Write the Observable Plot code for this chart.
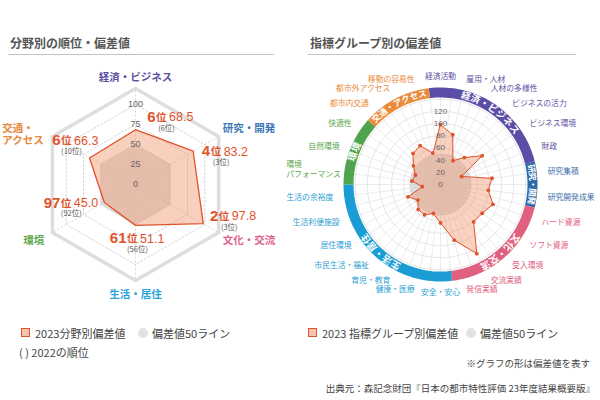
<!DOCTYPE html>
<html lang="ja"><head><meta charset="utf-8">
<script src="https://cdn.jsdelivr.net/npm/d3@7"></script>
<script src="https://cdn.jsdelivr.net/npm/@observablehq/plot@0.6"></script>
<style>
html,body{margin:0;padding:0;background:#fff;}
#page{position:relative;width:600px;height:400px;overflow:hidden;font-family:"Noto Sans CJK JP","Noto Sans",sans-serif;color:#444;}
.a{position:absolute;white-space:nowrap;}
.title{font-size:12px;font-weight:bold;color:#555;line-height:16px;top:35px;}
.rule{height:1px;background:#c4c4c4;top:54px;}
.leg{font-size:11px;line-height:14px;top:326px;color:#444;}
.sq{width:7px;height:7px;border:1.5px solid #e0552a;background:#f6c3ac;top:328px;}
.ci{width:10px;height:10px;border-radius:50%;background:#e2e2e2;top:328px;}
.note{font-size:9.5px;line-height:12px;color:#444;}
#left{position:absolute;left:0;top:60px;}
#right{position:absolute;left:300px;top:60px;}
</style></head><body>
<div id="page">
 <div class="a title" style="left:10px">分野別の順位・偏差値</div>
 <div class="a rule" style="left:8px;width:266px"></div>
 <div class="a title" style="left:310px">指標グループ別の偏差値</div>
 <div class="a rule" style="left:308px;width:268px"></div>
 <div id="left"></div>
 <div id="right"></div>
 <div class="a sq" style="left:21px"></div>
 <div class="a leg" style="left:35px">2023分野別偏差値</div>
 <div class="a ci" style="left:138px"></div>
 <div class="a leg" style="left:152px">偏差値50ライン</div>
 <div class="a leg" style="left:19px;top:345px">( ) 2022の順位</div>
 <div class="a sq" style="left:308px"></div>
 <div class="a leg" style="left:322px">2023 指標グループ別偏差値</div>
 <div class="a ci" style="left:466px"></div>
 <div class="a leg" style="left:480px">偏差値50ライン</div>
 <div class="a note" style="right:10px;top:357px">※グラフの形は偏差値を表す</div>
 <div class="a note" style="right:5px;top:382px">出典元：森記念財団『日本の都市特性評価 23年度結果概要版』</div>
</div>
<script>
// ---------- data ----------
const fields = ["経済・ビジネス","研究・開発","文化・交流","生活・居住","環境","交通・アクセス"];
const fieldScores2023 = [68.5, 83.2, 97.8, 51.1, 45.0, 66.3];
const fieldRank2023 = [6, 4, 2, 61, 97, 6];
const fieldRank2022 = [6, 3, 3, 56, 92, 10];
const leftTicks = [0, 25, 50, 75, 100];

const groupSizes = [6, 2, 5, 7, 3, 3];
const indicators = ["経済活動","雇用・人材","人材の多様性","ビジネスの活力","ビジネス環境","財政",
  "研究集積","研究開発成果",
  "ハード資源","ソフト資源","受入環境","交流実績","発信実績",
  "安全・安心","健康・医療","育児・教育","市民生活・福祉","居住環境","生活利便施設","生活の余裕度",
  "環境パフォーマンス","自然環境","快適性",
  "都市内交通","都市外アクセス","移動の容易性"];
const indicatorScores = [98, 84, 44, 59, 83, 37,
  85, 79,
  92, 83, 82, 128, 94,
  63, 49, 56, 55, 45, 57, 30,
  47, 44, 54,
  68, 72, 53];
const rightTicks = [0, 20, 40, 60, 80, 100, 120];

// ---------- styles ----------
const FONT = '"Noto Sans CJK JP","Noto Sans",sans-serif';
const NUMFONT = '"Liberation Sans","Noto Sans CJK JP",sans-serif';
const RED = "#e0522a";
const fieldText = ["#5b4fa0","#3f78b6","#e0648a","#2aa3d6","#62a852","#e8883a"];
const ringColors = ["#5a4ea6","#2f6aa8","#e0607f","#1b9cd4","#4fa44d","#ea8a3a"];
const indText = ["#5e52a3","#3c6ea8","#e0607e","#2aa0d4","#5aa64a","#e98b3b"];

const rad = a => a * Math.PI / 180;
const pol = (v, a) => [v * Math.sin(rad(a)), v * Math.cos(rad(a))];

// ================= LEFT =================
{
  const k = 0.8, W = 300, H = 250, cx = 135, cy = 124, MAX = 120;
  const n = fields.length, step = 360 / n;
  const vert = (v, i) => { const [x, y] = pol(v, i * step); return {x, y}; };
  const dataPts = fields.map((f, i) => ({f, i, ...vert(fieldScores2023[i], i)}));
  const rings = leftTicks.filter(t => t > 0 && t !== 50);
  const hexPts = rings.flatMap(r => fields.map((f, i) => ({r, ...vert(r, i)})));
  const outer = fields.map((f, i) => vert(MAX, i));
  const hex50 = fields.map((f, i) => vert(50, i));
  const spokes = fields.map((f, i) => { const p = vert(MAX, i); return {x1: 0, y1: 0, x2: p.x, y2: p.y}; });

  const labLayout = [
    {r: 134, anchor: "middle", dx: 0, dy: 0},
    {r: 126, anchor: "start", dx: 0, dy: -6},
    {r: 126, anchor: "start", dx: 0, dy: 5},
    {r: 137, anchor: "middle", dx: 0, dy: 0},
    {r: 126, anchor: "end", dx: -4, dy: 5},
    {r: 126, anchor: "start", dx: -46, dy: 0}
  ];
  const labelMarks = fields.map((f, i) => {
    const L = labLayout[i];
    const p = vert(L.r, i);
    return Plot.text([{...p, t: f === "交通・アクセス" ? "交通・\nアクセス" : f}], {
      x: "x", y: "y", text: "t", textAnchor: L.anchor, dx: L.dx, dy: L.dy,
      fill: fieldText[i], fontSize: 10.5, fontWeight: "bold", lineHeight: 1.2, fontFamily: FONT
    });
  });

  const annOff = [[20, -14], [17, -1], [15, -9], [-9, 12], [-44, -1], [-29, -18.5]];
  const ann = fields.map((f, i) => ({
    x: dataPts[i].x + annOff[i][0] / k,
    y: dataPts[i].y - annOff[i][1] / k,
    rank: fieldRank2023[i], prev: fieldRank2022[i], score: fieldScores2023[i]
  }));

  const chart = Plot.plot({
    width: W, height: H, margin: 0,
    x: {domain: [-cx / k, (W - cx) / k], axis: null},
    y: {domain: [-(H - cy) / k, cy / k], axis: null},
    style: {overflow: "visible", background: "transparent", fontFamily: FONT},
    marks: [
      Plot.line(outer, {x: "x", y: "y", curve: "linear-closed", stroke: "#dedede", strokeWidth: 3.5}),
      Plot.link(spokes, {x1: "x1", y1: "y1", x2: "x2", y2: "y2", stroke: "#cfcfcf", strokeWidth: 0.8, strokeDasharray: "2,2"}),
      Plot.line(hexPts, {x: "x", y: "y", z: "r", curve: "linear-closed", stroke: "#cbcbcb", strokeWidth: 0.8, strokeDasharray: "2,2"}),
      Plot.line(hex50, {x: "x", y: "y", curve: "linear-closed", fill: "#d5d5d5", fillOpacity: 0.75, stroke: "#cdcdcd", strokeWidth: 0.8}),
      Plot.line(dataPts, {x: "x", y: "y", curve: "linear-closed", fill: "#f08a5d", fillOpacity: 0.4, stroke: RED, strokeWidth: 1.3}),
      Plot.text(leftTicks, {x: () => 0, y: d => d, text: d => String(d), fontSize: 9, fill: "#666", fontFamily: NUMFONT}),
      ...labelMarks,
      Plot.text(ann, {x: "x", y: "y", text: d => String(d.rank), textAnchor: "end", lineAnchor: "bottom", dy: 6, fontSize: 15, fontWeight: "bold", fill: RED, fontFamily: NUMFONT}),
      Plot.text(ann, {x: "x", y: "y", text: () => "位", textAnchor: "start", lineAnchor: "bottom", dy: 5, dx: 0.5, fontSize: 10.5, fontWeight: "bold", fill: RED, fontFamily: FONT}),
      Plot.text(ann, {x: "x", y: "y", text: d => d.score.toFixed(1), textAnchor: "start", lineAnchor: "bottom", dy: 5.5, dx: 13.5, fontSize: 12.5, fill: RED, fontFamily: NUMFONT}),
      Plot.text(ann, {x: "x", y: "y", text: d => `(${d.prev}位)`, dx: 11, dy: 12.5, fontSize: 7.5, fill: "#555", fontFamily: FONT})
    ]
  });
  document.getElementById("left").appendChild(chart);
}

// ================= RIGHT =================
{
  const k = 0.61, W = 300, H = 250, cx = 140, cy = 124, GMAX = 140, SPOKE = 143;
  const n = indicators.length, step = 360 / n;
  const groupOf = [];
  groupSizes.forEach((m, g) => { for (let j = 0; j < m; j++) groupOf.push(g); });
  const starts = groupSizes.map((m, g) => d3.sum(groupSizes.slice(0, g)));
  const P = (v, a) => { const [x, y] = pol(v, a); return {x, y}; };

  const dataPts = indicators.map((name, i) => ({name, ...P(indicatorScores[i], i * step)}));
  const ringVals = d3.range(20, GMAX + 1, 20);
  const circlePts = ringVals.flatMap(r => d3.range(0, 360, 2).map(a => ({r, ...P(r, a)})));
  const circle50 = d3.range(0, 360, 2).map(a => P(50, a));
  const spokes = d3.range(0, 2 * n).map(j => { const p = P(SPOKE, j * step / 2); return {x2: p.x, y2: p.y}; });

  const RR = 92 / k;
  const arcPts = groupSizes.flatMap((m, g) => {
    const a0 = (starts[g] - 0.5) * step, a1 = (starts[g] + m - 0.5) * step;
    return d3.range(0, 41).map(j => ({g, ...P(RR, a0 + (a1 - a0) * j / 40)}));
  });

  const ringChars = fields.flatMap((f, g) => {
    const mid = (starts[g] + (groupSizes[g] - 1) / 2) * step;
    const chars = Array.from(f);
    const span = groupSizes[g] * step;
    const cs = Math.min(6.2, span / (chars.length + 0.6));
    return chars.map((c, j) => {
      const a = mid + (j - (chars.length - 1) / 2) * cs;
      return {c, a, fs: cs < 6 ? 8.5 : 9.5, ...P(RR, a)};
    });
  });

  const LR = 108 / k;
  const labs = indicators.map((name, i) => {
    const a = i * step;
    const anchor = (a < 3 || Math.abs(a - 180) < 3) ? "middle" : (a < 180 ? "start" : "end");
    return {name, a, anchor, g: groupOf[i], ...P(LR, a)};
  });
  const special = "環境パフォーマンス";
  const labMark = (anchor) => Plot.text(labs.filter(d => d.anchor === anchor && d.name !== special), {
    x: "x", y: "y", text: "name", textAnchor: anchor, fill: d => indText[d.g],
    fontSize: 7.8, fontFamily: FONT
  });

  const chart = Plot.plot({
    width: W, height: H, margin: 0,
    x: {domain: [-cx / k, (W - cx) / k], axis: null},
    y: {domain: [-(H - cy) / k, cy / k], axis: null},
    color: {type: "identity"},
    style: {overflow: "visible", background: "transparent", fontFamily: FONT},
    marks: [
      Plot.link(spokes, {x1: () => 0, y1: () => 0, x2: "x2", y2: "y2", stroke: "#e4e4e4", strokeWidth: 0.7}),
      Plot.line(circlePts, {x: "x", y: "y", z: "r", curve: "linear-closed", stroke: "#dedede", strokeWidth: 0.8}),
      Plot.line(circle50, {x: "x", y: "y", curve: "linear-closed", fill: "#d2d2d2", fillOpacity: 0.7, stroke: "#cdcdcd", strokeWidth: 0.6}),
      Plot.line(dataPts, {x: "x", y: "y", curve: "linear-closed", fill: "#f08a5d", fillOpacity: 0.38, stroke: RED, strokeWidth: 1}),
      Plot.dot(dataPts, {x: "x", y: "y", r: 1.9, fill: RED}),
      Plot.text(rightTicks, {x: () => 0, y: d => d, text: d => String(d), fontSize: 8, fill: "#666", fontFamily: NUMFONT}),
      Plot.line(arcPts, {x: "x", y: "y", z: "g", stroke: d => ringColors[d.g], strokeWidth: 10, strokeLinecap: "butt", strokeLinejoin: "round"}),
      Plot.text(ringChars.filter(d => d.fs > 9), {x: "x", y: "y", text: "c", rotate: "a", fill: "white", fontSize: 9.5, fontWeight: "bold", fontFamily: FONT}),
      Plot.text(ringChars.filter(d => d.fs <= 9), {x: "x", y: "y", text: "c", rotate: "a", fill: "white", fontSize: 8.5, fontWeight: "bold", fontFamily: FONT}),
      labMark("middle"), labMark("start"), labMark("end"),
      Plot.text(labs.filter(d => d.name === special), {
        x: "x", y: "y", text: () => "環境\nパフォーマンス", textAnchor: "start", dx: -47, dy: -3,
        lineHeight: 1.3, fill: d => indText[d.g], fontSize: 7.8, fontFamily: FONT
      })
    ]
  });
  document.getElementById("right").appendChild(chart);
}
</script>
</body></html>
